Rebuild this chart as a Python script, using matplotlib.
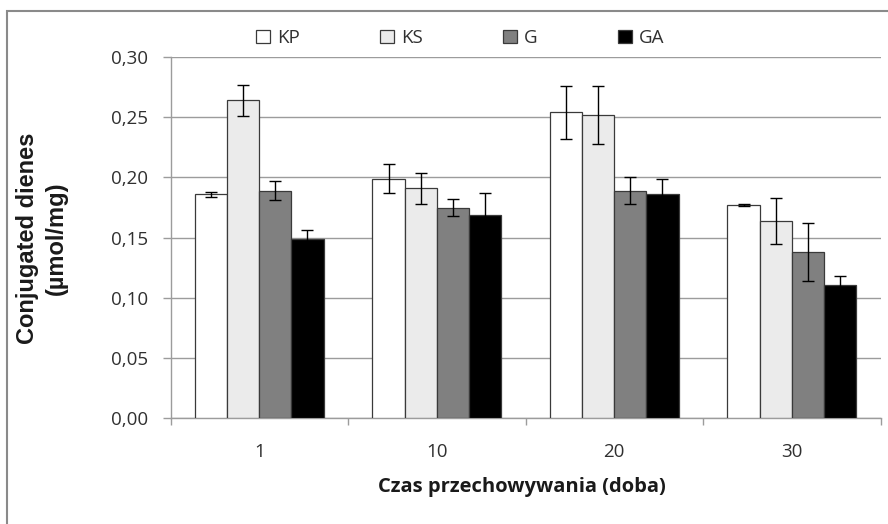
import numpy as np
import matplotlib
matplotlib.use('Agg')
import matplotlib.pyplot as plt
import matplotlib.ticker as ticker
from matplotlib.patches import Rectangle, Patch

#%% Data

days = ['1', '10', '20', '30']
groups = ['KP', 'KS', 'G', 'GA']

kp = [0.186, 0.199, 0.254, 0.177]
kp_err = [0.002, 0.012, 0.022, 0.001]
ks = [0.264, 0.191, 0.252, 0.164]
ks_err = [0.013, 0.013, 0.024, 0.019]
g = [0.189, 0.175, 0.189, 0.138]
g_err = [0.008, 0.007, 0.011, 0.024]
ga = [0.149, 0.169, 0.186, 0.111]
ga_err = [0.007, 0.018, 0.013, 0.007]

colors = ['#ffffff', '#ebebeb', '#808080', '#000000']

grid_col = '#9c9c9c'
txt_col = '#303030'
tick_font = 'Open Sans'


@ticker.FuncFormatter
def comma_formatter(x, pos):
    return f"{x:0.2f}".replace('.', ',')


#%% Plot

f = plt.figure(figsize=(8.88, 5.24), dpi=100)
ax = f.add_axes([170.5/888, 1-418.3/524, 710/888, (418.3-57)/524])

x = np.arange(len(days))
w = 0.181
series = [(kp, kp_err), (ks, ks_err), (g, g_err), (ga, ga_err)]
for i, (vals, errs) in enumerate(series):
    xs = x + (i - 1.5)*w
    ax.bar(xs, vals, width=w, color=colors[i], edgecolor='#3a3a3a',
           linewidth=0.9, zorder=3)
    ax.errorbar(xs, vals, yerr=errs, fmt='none', ecolor='black',
                elinewidth=1.0, capsize=4.5, capthick=1.0, zorder=4)

ax.set_xlim(-0.5, len(days) - 0.5)
ax.set_ylim(0, 0.30)
ax.yaxis.set_major_locator(ticker.MultipleLocator(0.05))
ax.yaxis.set_major_formatter(comma_formatter)

# category boundaries get the tick marks, centres get the labels
ax.set_xticks(np.arange(-0.5, len(days)), labels=[''] * (len(days) + 1))
ax.set_xticks(x, labels=days, minor=True)
ax.tick_params(axis='x', which='major', direction='out', length=5,
               color=grid_col, width=1)
ax.tick_params(axis='x', which='minor', length=0, pad=18)
ax.tick_params(axis='y', direction='out', length=6, color=grid_col,
               width=1, pad=10)
for lab in ax.get_xticklabels(minor=True) + ax.get_yticklabels():
    lab.set_fontfamily(tick_font)
    lab.set_fontsize(13.5)
    lab.set_color(txt_col)

ax.grid(True, axis='y', color=grid_col, linewidth=1, zorder=0)
ax.set_axisbelow(True)
for s in ['top', 'right']:
    ax.spines[s].set_visible(False)
for s in ['left', 'bottom']:
    ax.spines[s].set_color(grid_col)
    ax.spines[s].set_linewidth(1)

f.text(522/888, 1-487/524, 'Czas przechowywania (doba)', ha='center',
       va='center', fontsize=14.5, fontweight='bold', family='Open Sans',
       color='#1a1a1a')
f.text(42/888, 1-238/524, 'Conjugated dienes\n(µmol/mg)', ha='center',
       va='center', rotation=90, fontsize=17, fontweight='bold',
       family='Liberation Sans', linespacing=1.3, multialignment='center',
       color='#1a1a1a')

handles = [Patch(facecolor=c, edgecolor='#3a3a3a', linewidth=0.9)
           for c in colors]
leg = f.legend(handles, groups, loc='center', ncol=4, frameon=False,
               bbox_to_anchor=(460/888, 1-38/524), handlelength=0.75,
               handleheight=0.75, handletextpad=0.35, columnspacing=4.3,
               prop={'family': tick_font, 'size': 13.5})
for t in leg.get_texts():
    t.set_color(txt_col)

# outer chart frame, cut off at the right and bottom edges
f.add_artist(Rectangle((7/888, -0.1), 1.0, 1.1 - 11/524, fill=False,
                       edgecolor='#8a8a8a', linewidth=1.5,
                       transform=f.transFigure))

f.savefig('out.png', dpi=100)
